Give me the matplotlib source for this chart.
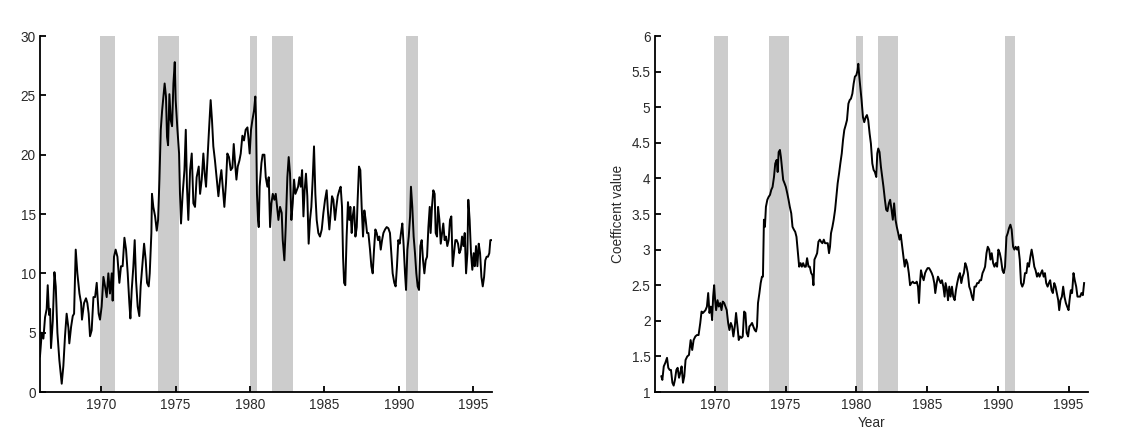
import matplotlib
matplotlib.use('Agg')
import matplotlib.pyplot as plt
from matplotlib.ticker import FormatStrFormatter

plt.rcParams['font.family'] = ['Liberation Sans', 'DejaVu Sans']

# recession periods (start, end)
rec_start = [1969.92, 1973.83, 1980.0, 1981.5, 1990.5]
rec_end = [1970.92, 1975.25, 1980.5, 1982.92, 1991.25]

# left panel series
years_a = [1965.90, 1966.02, 1966.13, 1966.24, 1966.35, 1966.42, 1966.51, 1966.58, 1966.64, 1966.76,
           1966.87, 1966.96, 1967.07, 1967.20, 1967.36, 1967.47, 1967.58, 1967.69, 1967.81, 1967.87,
           1967.99, 1968.10, 1968.19, 1968.30, 1968.41, 1968.55, 1968.66, 1968.72, 1968.86, 1968.99,
           1969.08, 1969.17, 1969.26, 1969.37, 1969.49, 1969.60, 1969.71, 1969.84, 1969.93, 1970.04,
           1970.16, 1970.27, 1970.38, 1970.49, 1970.60, 1970.72, 1970.78, 1970.87, 1970.98, 1971.10,
           1971.23, 1971.34, 1971.45, 1971.57, 1971.68, 1971.79, 1971.90, 1971.97, 1972.06, 1972.17,
           1972.26, 1972.35, 1972.46, 1972.57, 1972.66, 1972.78, 1972.89, 1973.00, 1973.09, 1973.20,
           1973.27, 1973.38, 1973.42, 1973.51, 1973.63, 1973.74, 1973.83, 1973.92, 1974.01, 1974.10,
           1974.19, 1974.27, 1974.36, 1974.43, 1974.50, 1974.59, 1974.68, 1974.77, 1974.86, 1974.95,
           1975.01, 1975.13, 1975.24, 1975.30, 1975.37, 1975.48, 1975.60, 1975.69, 1975.77, 1975.86,
           1975.98, 1976.09, 1976.20, 1976.31, 1976.42, 1976.56, 1976.65, 1976.76, 1976.87, 1976.96,
           1977.05, 1977.14, 1977.25, 1977.36, 1977.45, 1977.54, 1977.65, 1977.77, 1977.88, 1977.99,
           1978.08, 1978.17, 1978.28, 1978.39, 1978.48, 1978.59, 1978.71, 1978.82, 1978.91, 1979.00,
           1979.09, 1979.18, 1979.29, 1979.38, 1979.49, 1979.60, 1979.71, 1979.83, 1979.89, 1979.98,
           1980.07, 1980.16, 1980.27, 1980.36, 1980.41, 1980.47, 1980.54, 1980.59, 1980.65, 1980.77,
           1980.85, 1980.97, 1981.06, 1981.17, 1981.26, 1981.35, 1981.44, 1981.53, 1981.64, 1981.73,
           1981.82, 1981.91, 1982.02, 1982.13, 1982.20, 1982.31, 1982.40, 1982.51, 1982.60, 1982.69,
           1982.78, 1982.87, 1982.96, 1983.05, 1983.14, 1983.23, 1983.32, 1983.41, 1983.50, 1983.59,
           1983.67, 1983.76, 1983.85, 1983.94, 1984.03, 1984.12, 1984.21, 1984.30, 1984.39, 1984.48,
           1984.59, 1984.70, 1984.82, 1984.93, 1985.04, 1985.15, 1985.24, 1985.33, 1985.42, 1985.51,
           1985.60, 1985.71, 1985.80, 1985.89, 1986.00, 1986.09, 1986.18, 1986.25, 1986.32, 1986.40,
           1986.49, 1986.58, 1986.67, 1986.74, 1986.83, 1986.90, 1986.99, 1987.08, 1987.17, 1987.23,
           1987.32, 1987.41, 1987.50, 1987.59, 1987.68, 1987.77, 1987.86, 1987.95, 1988.06, 1988.15,
           1988.24, 1988.33, 1988.42, 1988.51, 1988.60, 1988.69, 1988.78, 1988.87, 1988.96, 1989.07,
           1989.18, 1989.29, 1989.40, 1989.49, 1989.58, 1989.69, 1989.78, 1989.87, 1989.96, 1990.05,
           1990.14, 1990.23, 1990.32, 1990.41, 1990.48, 1990.57, 1990.66, 1990.75, 1990.81, 1990.90,
           1990.99, 1991.08, 1991.17, 1991.26, 1991.35, 1991.44, 1991.53, 1991.62, 1991.71, 1991.80,
           1991.89, 1991.98, 1992.07, 1992.13, 1992.22, 1992.31, 1992.40, 1992.47, 1992.56, 1992.63,
           1992.72, 1992.81, 1992.90, 1992.98, 1993.07, 1993.16, 1993.25, 1993.34, 1993.43, 1993.52,
           1993.61, 1993.70, 1993.79, 1993.88, 1993.97, 1994.06, 1994.15, 1994.24, 1994.33, 1994.42,
           1994.51, 1994.60, 1994.66, 1994.75, 1994.84, 1994.93, 1995.02, 1995.09, 1995.18, 1995.27,
           1995.36, 1995.45, 1995.54, 1995.63, 1995.72, 1995.80, 1995.89, 1995.98, 1996.07, 1996.14,
           1996.23]
values_a = [3.0, 5.0, 4.5, 6.3, 7.0, 9.0, 6.5, 7.0, 3.7, 6.0,
            10.1, 8.9, 5.0, 2.7, 0.7, 2.2, 4.7, 6.6, 5.4, 4.1,
            5.5, 6.4, 6.6, 12.0, 10.0, 8.3, 7.5, 6.1, 7.5, 7.9,
            7.5, 6.6, 4.7, 5.2, 8.0, 8.0, 9.2, 6.6, 6.1, 7.2,
            9.7, 8.9, 8.0, 10.0, 8.3, 10.0, 7.7, 11.4, 12.0, 11.4,
            9.2, 10.6, 10.6, 13.0, 12.0, 10.0, 7.5, 6.2, 8.6, 10.6,
            12.8, 9.4, 7.2, 6.4, 8.9, 10.8, 12.5, 11.1, 9.2, 8.9,
            10.0, 13.4, 16.7, 15.6, 14.8, 13.6, 14.5, 17.9, 22.1, 23.7,
            24.9, 26.0, 24.9, 21.5, 20.8, 25.1, 22.9, 22.4, 26.0, 27.8,
            24.6, 22.1, 20.1, 16.7, 14.2, 16.7, 18.7, 22.1, 17.3, 14.5,
            18.7, 20.1, 15.9, 15.6, 18.1, 19.0, 16.7, 17.9, 20.1, 18.4,
            17.3, 19.5, 22.1, 24.6, 22.9, 20.7, 19.5, 17.9, 16.5, 17.9,
            18.7, 17.3, 15.6, 17.6, 20.1, 19.8, 18.7, 18.9, 20.9, 19.3,
            17.9, 19.0, 19.5, 20.1, 21.6, 21.2, 22.1, 22.3, 21.5, 20.1,
            22.1, 22.9, 23.7, 24.9, 22.9, 16.7, 14.5, 13.9, 17.3, 19.3,
            20.0, 20.0, 18.1, 17.3, 18.1, 13.9, 15.9, 16.7, 16.2, 16.7,
            15.6, 14.5, 15.6, 15.1, 12.8, 11.1, 13.9, 18.1, 19.8, 18.4,
            14.5, 15.9, 17.9, 16.7, 17.0, 17.3, 18.1, 17.3, 18.7, 14.8,
            17.0, 18.4, 16.5, 12.5, 14.5, 15.6, 17.9, 20.7, 16.7, 14.5,
            13.4, 13.1, 13.7, 15.1, 16.2, 17.0, 15.1, 13.7, 15.1, 16.5,
            16.2, 14.5, 15.6, 16.5, 17.0, 17.3, 15.6, 11.4, 9.2, 9.0,
            13.1, 16.0, 14.5, 15.6, 13.4, 14.8, 15.6, 13.1, 13.9, 16.2,
            19.0, 18.7, 15.6, 13.1, 15.3, 14.5, 13.4, 13.4, 12.0, 10.6,
            10.0, 12.0, 13.7, 13.4, 12.8, 13.1, 12.0, 12.8, 13.4, 13.7,
            13.9, 13.8, 13.4, 11.7, 10.0, 9.2, 8.9, 10.6, 12.8, 12.5,
            13.4, 14.2, 12.3, 10.0, 8.6, 12.0, 13.1, 14.8, 17.3, 15.6,
            13.1, 11.7, 10.0, 8.9, 8.6, 12.3, 12.8, 11.1, 10.0, 11.1,
            11.4, 13.9, 15.6, 13.4, 15.6, 17.0, 16.7, 13.4, 13.1, 15.6,
            14.5, 12.5, 13.4, 14.2, 12.8, 13.1, 12.3, 12.8, 14.5, 14.8,
            10.6, 11.7, 12.8, 12.8, 12.5, 11.7, 12.0, 13.1, 12.3, 13.4,
            10.0, 11.7, 16.2, 14.5, 11.7, 10.3, 11.7, 10.6, 12.3, 10.6,
            12.5, 11.7, 9.7, 8.9, 9.7, 11.1, 11.4, 11.4, 11.7, 12.8,
            12.8]

# right panel series
years_b = [1966.22, 1966.29, 1966.39, 1966.50, 1966.62, 1966.71, 1966.81, 1966.90, 1967.00, 1967.09,
           1967.18, 1967.28, 1967.37, 1967.47, 1967.56, 1967.65, 1967.75, 1967.84, 1967.93, 1968.05,
           1968.17, 1968.29, 1968.40, 1968.50, 1968.62, 1968.73, 1968.85, 1968.97, 1969.06, 1969.16,
           1969.25, 1969.34, 1969.44, 1969.53, 1969.62, 1969.72, 1969.81, 1969.88, 1969.95, 1970.02,
           1970.09, 1970.19, 1970.28, 1970.38, 1970.47, 1970.56, 1970.66, 1970.75, 1970.84, 1970.94,
           1971.03, 1971.13, 1971.22, 1971.31, 1971.41, 1971.50, 1971.60, 1971.69, 1971.78, 1971.88,
           1971.97, 1972.07, 1972.16, 1972.25, 1972.35, 1972.44, 1972.53, 1972.63, 1972.72, 1972.82,
           1972.91, 1972.98, 1973.05, 1973.15, 1973.24, 1973.33, 1973.40, 1973.47, 1973.54, 1973.61,
           1973.71, 1973.80, 1973.90, 1973.99, 1974.08, 1974.18, 1974.27, 1974.37, 1974.44, 1974.51,
           1974.60, 1974.67, 1974.74, 1974.83, 1974.93, 1975.02, 1975.12, 1975.21, 1975.30, 1975.40,
           1975.49, 1975.59, 1975.68, 1975.77, 1975.87, 1975.96, 1976.06, 1976.15, 1976.24, 1976.34,
           1976.43, 1976.52, 1976.62, 1976.71, 1976.81, 1976.90, 1976.97, 1977.04, 1977.13, 1977.23,
           1977.32, 1977.42, 1977.51, 1977.60, 1977.70, 1977.79, 1977.89, 1977.98, 1978.07, 1978.14,
           1978.21, 1978.31, 1978.40, 1978.50, 1978.59, 1978.68, 1978.78, 1978.87, 1978.97, 1979.06,
           1979.15, 1979.25, 1979.34, 1979.44, 1979.53, 1979.62, 1979.72, 1979.81, 1979.90, 1980.00,
           1980.09, 1980.14, 1980.21, 1980.28, 1980.37, 1980.47, 1980.56, 1980.66, 1980.75, 1980.84,
           1980.94, 1981.03, 1981.13, 1981.22, 1981.31, 1981.41, 1981.48, 1981.55, 1981.64, 1981.74,
           1981.83, 1981.92, 1982.02, 1982.11, 1982.20, 1982.30, 1982.39, 1982.49, 1982.58, 1982.67,
           1982.77, 1982.86, 1982.96, 1983.05, 1983.14, 1983.24, 1983.33, 1983.42, 1983.52, 1983.61,
           1983.71, 1983.80, 1983.89, 1983.99, 1984.08, 1984.18, 1984.27, 1984.36, 1984.43, 1984.50,
           1984.57, 1984.67, 1984.76, 1984.86, 1984.95, 1985.04, 1985.14, 1985.23, 1985.33, 1985.42,
           1985.51, 1985.58, 1985.68, 1985.77, 1985.87, 1985.96, 1986.05, 1986.15, 1986.24, 1986.31,
           1986.41, 1986.48, 1986.57, 1986.66, 1986.76, 1986.85, 1986.95, 1987.04, 1987.13, 1987.23,
           1987.32, 1987.42, 1987.51, 1987.60, 1987.70, 1987.79, 1987.88, 1987.98, 1988.07, 1988.17,
           1988.26, 1988.35, 1988.45, 1988.54, 1988.64, 1988.73, 1988.82, 1988.92, 1989.01, 1989.10,
           1989.20, 1989.29, 1989.39, 1989.48, 1989.57, 1989.67, 1989.76, 1989.86, 1989.95, 1990.04,
           1990.14, 1990.23, 1990.33, 1990.42, 1990.51, 1990.61, 1990.70, 1990.79, 1990.89, 1990.98,
           1991.08, 1991.17, 1991.26, 1991.36, 1991.45, 1991.55, 1991.64, 1991.73, 1991.83, 1991.92,
           1992.02, 1992.11, 1992.20, 1992.30, 1992.39, 1992.48, 1992.58, 1992.67, 1992.77, 1992.86,
           1992.95, 1993.05, 1993.14, 1993.24, 1993.33, 1993.42, 1993.52, 1993.61, 1993.70, 1993.80,
           1993.89, 1993.99, 1994.08, 1994.17, 1994.27, 1994.34, 1994.43, 1994.53, 1994.62, 1994.71,
           1994.81, 1994.90, 1995.00, 1995.07, 1995.16, 1995.25, 1995.35, 1995.44, 1995.54, 1995.63,
           1995.72, 1995.82, 1995.91, 1996.01, 1996.10]
values_b = [1.22, 1.17, 1.36, 1.41, 1.48, 1.34, 1.31, 1.31, 1.13, 1.09,
            1.17, 1.31, 1.34, 1.20, 1.27, 1.36, 1.13, 1.22, 1.45, 1.50,
            1.52, 1.73, 1.59, 1.73, 1.78, 1.80, 1.80, 1.97, 2.13, 2.11,
            2.13, 2.15, 2.20, 2.39, 2.11, 2.20, 2.01, 2.34, 2.50, 2.29,
            2.15, 2.29, 2.20, 2.25, 2.15, 2.27, 2.25, 2.20, 2.15, 1.97,
            1.87, 1.97, 1.92, 1.78, 1.92, 2.11, 1.92, 1.73, 1.78, 1.76,
            1.78, 2.13, 2.11, 1.83, 1.78, 1.92, 1.94, 1.97, 1.92, 1.87,
            1.85, 1.92, 2.25, 2.39, 2.53, 2.62, 2.62, 3.42, 3.32, 3.60,
            3.70, 3.74, 3.77, 3.84, 3.88, 4.02, 4.21, 4.26, 4.09, 4.37,
            4.40, 4.30, 4.16, 3.98, 3.93, 3.88, 3.79, 3.70, 3.60, 3.51,
            3.32, 3.28, 3.25, 3.18, 2.95, 2.76, 2.81, 2.76, 2.81, 2.76,
            2.76, 2.88, 2.76, 2.76, 2.67, 2.64, 2.50, 2.86, 2.90, 2.95,
            3.11, 3.14, 3.11, 3.09, 3.14, 3.09, 3.09, 3.09, 2.95, 3.04,
            3.23, 3.32, 3.42, 3.56, 3.74, 3.93, 4.07, 4.21, 4.35, 4.54,
            4.68, 4.75, 4.82, 5.05, 5.10, 5.12, 5.19, 5.33, 5.43, 5.45,
            5.52, 5.61, 5.43, 5.29, 5.10, 4.86, 4.79, 4.86, 4.89, 4.82,
            4.63, 4.49, 4.21, 4.12, 4.09, 4.02, 4.35, 4.42, 4.37, 4.16,
            4.02, 3.88, 3.70, 3.56, 3.54, 3.65, 3.70, 3.56, 3.42, 3.65,
            3.42, 3.32, 3.23, 3.14, 3.21, 3.04, 2.90, 2.76, 2.86, 2.81,
            2.67, 2.50, 2.53, 2.55, 2.53, 2.53, 2.55, 2.48, 2.25, 2.53,
            2.71, 2.62, 2.57, 2.67, 2.71, 2.74, 2.74, 2.71, 2.67, 2.62,
            2.53, 2.39, 2.53, 2.62, 2.57, 2.53, 2.57, 2.48, 2.34, 2.53,
            2.43, 2.29, 2.48, 2.34, 2.48, 2.34, 2.29, 2.43, 2.53, 2.62,
            2.67, 2.53, 2.62, 2.67, 2.81, 2.76, 2.67, 2.48, 2.43, 2.34,
            2.29, 2.48, 2.48, 2.53, 2.53, 2.57, 2.57, 2.67, 2.71, 2.76,
            2.95, 3.04, 3.00, 2.86, 2.95, 2.81, 2.76, 2.81, 2.76, 3.00,
            2.95, 2.86, 2.71, 2.67, 2.76, 3.18, 3.23, 3.30, 3.35, 3.28,
            3.04, 3.00, 3.04, 3.00, 3.04, 2.86, 2.53, 2.48, 2.53, 2.67,
            2.67, 2.81, 2.76, 2.90, 3.00, 2.90, 2.76, 2.71, 2.62, 2.67,
            2.62, 2.67, 2.71, 2.62, 2.67, 2.53, 2.48, 2.53, 2.57, 2.43,
            2.39, 2.53, 2.48, 2.39, 2.29, 2.15, 2.29, 2.34, 2.48, 2.34,
            2.25, 2.20, 2.15, 2.29, 2.43, 2.39, 2.67, 2.57, 2.48, 2.34,
            2.34, 2.34, 2.39, 2.36, 2.53]

xticks = [1970, 1975, 1980, 1985, 1990, 1995]
yticks_a = [0, 5, 10, 15, 20, 25, 30]
yticks_b = [1, 1.5, 2, 2.5, 3, 3.5, 4, 4.5, 5, 5.5, 6]

txt_color = '#2a2a2a'
fs = 9.8


def style_axes(ax):
    ax.spines['top'].set_visible(False)
    ax.spines['right'].set_visible(False)
    for s in ['left', 'bottom']:
        ax.spines[s].set_linewidth(1.3)
    ax.tick_params(direction='in', length=4, width=1.3, labelsize=fs, labelcolor=txt_color)
    ax.tick_params(axis='y', pad=3)
    ax.tick_params(axis='x', pad=4)
    ax.set_xticks(xticks)
    for a, b in zip(rec_start, rec_end):
        ax.axvspan(a, b, color='#cccccc', lw=0, zorder=0)


fig = plt.figure(figsize=(11.23, 4.42), dpi=100)

ax1 = fig.add_axes([0.0356, 0.1131, 0.4025, 0.8054])
style_axes(ax1)
ax1.plot(years_a, values_a, color='black', lw=1.4, zorder=2)
ax1.set_xlim(1965.9, 1996.25)
ax1.set_ylim(0, 30)
ax1.set_yticks(yticks_a)

ax2 = fig.add_axes([0.5830, 0.1131, 0.3859, 0.8054])
style_axes(ax2)
ax2.plot(years_b, values_b, color='black', lw=1.4, zorder=2)
ax2.set_xlim(1965.75, 1996.38)
ax2.set_ylim(1, 6)
ax2.set_yticks(yticks_b)
ax2.yaxis.set_major_formatter(FormatStrFormatter('%g'))
ax2.set_ylabel('Coefficent value', fontsize=fs, color=txt_color, labelpad=5)
ax2.set_xlabel('Year', fontsize=fs, color=txt_color, labelpad=3)

fig.savefig('out.png', dpi=100)
